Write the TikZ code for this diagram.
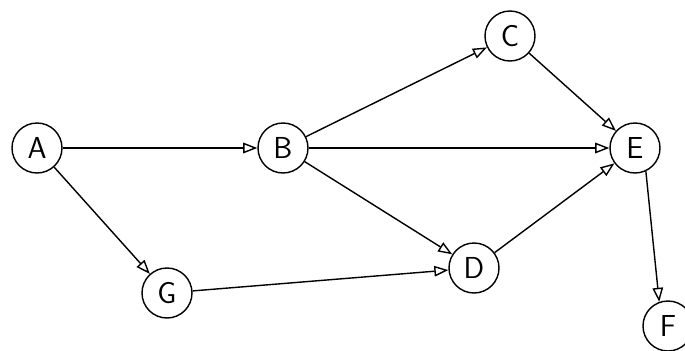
\documentclass[tikz,border=0pt]{standalone}
\usepackage{tikz}
\usetikzlibrary{arrows.meta, positioning}

\begin{document}
\begin{tikzpicture}[
  on grid,
  vtx/.style={circle, draw, thick, minimum size=1cm, inner sep=0pt, font=\LARGE\sffamily},
  arrow/.style={-{Triangle[open, length=8pt, width=6pt]}, thick},
]
  \useasboundingbox (0,0) rectangle (13.7,7);

  \node[vtx] (a) at (0.74,4.04) {A};
  \node[vtx, right=4.92cm of a] (b) {B};
  \node[vtx, above right=2.24cm and 4.54cm of b] (c) {C};
  \node[vtx, right=7.04cm of b] (e) {E};
  \node[vtx, below right=2.4cm and 3.82cm of b] (d) {D};
  \node[vtx, below right=2.9cm and 2.6cm of a] (g) {G};
  \node[vtx, below right=3.56cm and 0.66cm of e] (f) {F};

  \draw[arrow] (a) -- (b);
  \draw[arrow] (a) -- (g);
  \draw[arrow] (b) -- (c);
  \draw[arrow] (b) -- (e);
  \draw[arrow] (b) -- (d);
  \draw[arrow] (c) -- (e);
  \draw[arrow] (d) -- (e);
  \draw[arrow] (g) -- (d);
  \draw[arrow] (e.-65) -- (f.110);
\end{tikzpicture}
\end{document}
